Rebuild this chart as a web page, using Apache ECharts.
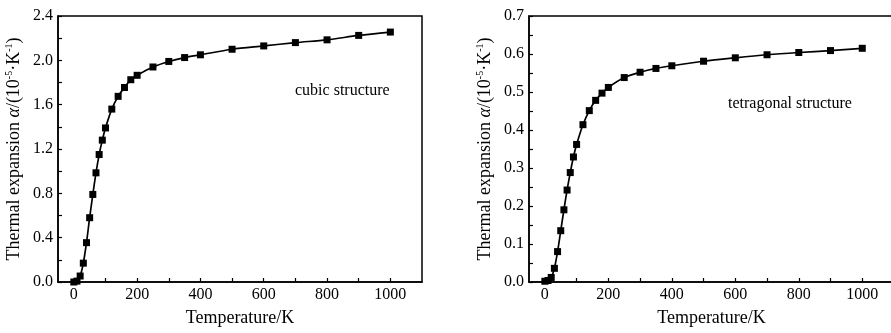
<!DOCTYPE html>
<html>
<head>
<meta charset="utf-8">
<script src="https://cdn.jsdelivr.net/npm/echarts@6/dist/echarts.min.js"></script>
<style>
  html, body { margin: 0; padding: 0; background: #fff; overflow: hidden; }
  /* the right panel's frame runs just past the window edge in the original */
  #chart { width: 900px; height: 333px; }
</style>
</head>
<body>
<div id="chart"></div>
<script>
// temperature (K) of each computed point, shared by both panels
const temps = [0, 10, 20, 30, 40, 50, 60, 70, 80, 90, 100, 120, 140, 160, 180, 200,
  250, 300, 350, 400, 500, 600, 700, 800, 900, 1000];

// thermal expansion, 10^-5 K^-1
const cubic = [0, 0.008, 0.054, 0.17, 0.355, 0.58, 0.79, 0.985, 1.15, 1.28, 1.39,
  1.56, 1.675, 1.755, 1.825, 1.865, 1.94, 1.99, 2.025, 2.05, 2.1, 2.13, 2.16, 2.185, 2.225, 2.255];
const tetragonal = [0.002, 0.004, 0.012, 0.036, 0.08, 0.135, 0.19, 0.242, 0.288, 0.329, 0.362,
  0.414, 0.451, 0.478, 0.497, 0.512, 0.538, 0.552, 0.562, 0.569, 0.581, 0.59, 0.598, 0.604, 0.609, 0.615];

// axis ticks / labels
const xTicks = [0, 100, 200, 300, 400, 500, 600, 700, 800, 900, 1000];
const xLabels = [0, 200, 400, 600, 800, 1000];

const font = '"Liberation Serif", "Times New Roman", serif';
const black = '#000';

const chart = echarts.init(document.getElementById('chart'));

function xAxis(gridIndex) {
  return {
    type: 'value',
    gridIndex,
    min: -50,
    max: 1100,
    name: 'Temperature/K',
    nameLocation: 'middle',
    nameGap: 27,
    nameTextStyle: { fontFamily: font, fontSize: 18, color: black },
    axisLine: { onZero: false, lineStyle: { color: black, width: 1.5 } },
    axisTick: { inside: true, length: 4, customValues: xTicks, lineStyle: { color: black, width: 1.2 } },
    axisLabel: {
      customValues: xLabels, margin: 5, fontFamily: font, fontSize: 16, color: black,
      formatter: (v) => String(v),
    },
    splitLine: { show: false },
  };
}

function yAxis(gridIndex, max, interval) {
  return {
    type: 'value',
    gridIndex,
    min: 0,
    max,
    interval,
    name: '{n|Thermal expansion }{i|α}{n|/(10}{s|-5}{n|·K}{s|-1}{n|)}',
    nameLocation: 'middle',
    nameGap: 34,
    nameTextStyle: {
      fontFamily: font, fontSize: 18, color: black,
      rich: {
        n: { fontFamily: font, fontSize: 18, color: black, lineHeight: 20 },
        i: { fontFamily: font, fontSize: 18, color: black, fontStyle: 'italic', lineHeight: 20 },
        s: { fontFamily: font, fontSize: 10, color: black, verticalAlign: 'top', lineHeight: 20 },
      },
    },
    axisLine: { show: true, onZero: false, lineStyle: { color: black, width: 1.5 } },
    axisTick: { inside: true, length: 4, lineStyle: { color: black, width: 1.2 } },
    minorTick: { show: true, splitNumber: 2, length: 4, lineStyle: { color: black, width: 1.2 } },
    axisLabel: {
      margin: 5, fontFamily: font, fontSize: 16, color: black,
      formatter: (v) => v.toFixed(1),
    },
    splitLine: { show: false },
  };
}

function series(idx, data) {
  return {
    type: 'line',
    xAxisIndex: idx,
    yAxisIndex: idx,
    data: temps.map((t, i) => [t, data[i]]),
    smooth: 0.3,
    symbol: 'rect',
    symbolSize: 7,
    itemStyle: { color: black },
    lineStyle: { color: black, width: 1.7 },
    animation: false,
  };
}

chart.setOption({
  animation: false,
  grid: [
    { left: 58, top: 16, width: 364, height: 266, show: true, borderColor: black, borderWidth: 1.5 },
    { left: 529, top: 16, width: 365, height: 266, show: true, borderColor: black, borderWidth: 1.5 },
  ],
  xAxis: [xAxis(0), xAxis(1)],
  yAxis: [yAxis(0, 2.4, 0.4), yAxis(1, 0.7, 0.1)],
  series: [series(0, cubic), series(1, tetragonal)],
  graphic: [
    { type: 'text', left: 295, top: 83, style: { text: 'cubic structure', font: '16px ' + font, fill: black } },
    { type: 'text', left: 728, top: 96, style: { text: 'tetragonal structure', font: '16px ' + font, fill: black } },
  ],
});
</script>
</body>
</html>
